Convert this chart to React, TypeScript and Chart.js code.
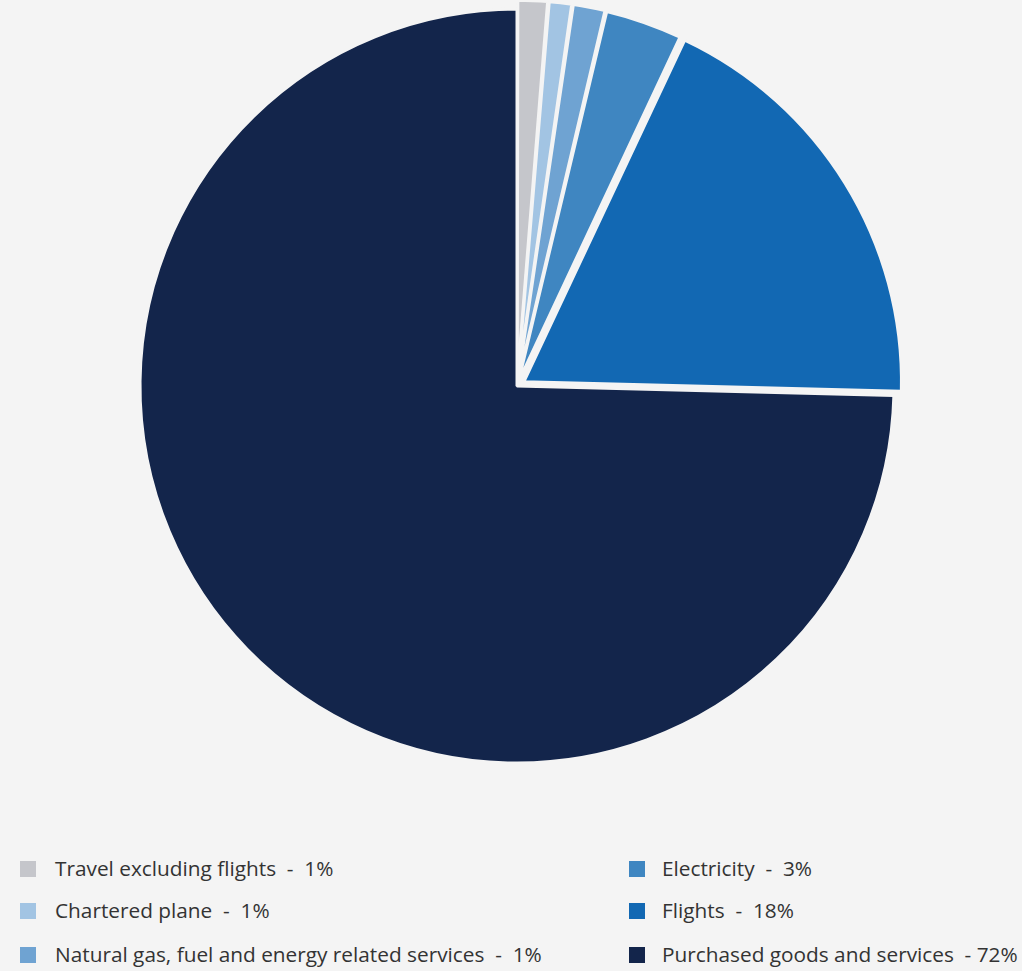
import React, { useEffect, useRef } from "react";
import { Chart, registerables } from "chart.js";

Chart.register(...registerables);

const categories = [
  "Travel excluding flights",
  "Chartered plane",
  "Natural gas, fuel and energy related services",
  "Electricity",
  "Flights",
  "Purchased goods and services",
];
const values = [1.3, 1.0, 1.4, 3.3, 18.4, 74.6];
const legendLabels = [
  "Travel excluding flights  -  1%",
  "Chartered plane  -  1%",
  "Natural gas, fuel and energy related services  -  1%",
  "Electricity  -  3%",
  "Flights  -  18%",
  "Purchased goods and services  - 72%",
];
const colors = ["#c5c6cb", "#a2c4e3", "#6fa3d2", "#3f86c1", "#1268b3", "#13254b"];
const offsets = [18, 18, 18, 18, 32, 0];

const BG = "#f4f4f4";

export default function App() {
  const ref = useRef<HTMLCanvasElement | null>(null);

  useEffect(() => {
    document.body.style.margin = "0";
    document.body.style.background = BG;
    const chart = new Chart(ref.current!, {
      type: "pie",
      data: {
        labels: categories,
        datasets: [
          {
            data: values,
            backgroundColor: colors,
            borderColor: BG,
            borderWidth: 3,
            offset: offsets,
          },
        ],
      },
      options: {
        responsive: false,
        animation: false,
        radius: 377,
        layout: { padding: { top: 1, left: 12, right: 0, bottom: 0 } },
        plugins: {
          legend: { display: false },
          tooltip: { enabled: false },
        },
      },
    });
    return () => chart.destroy();
  }, []);

  const colPos = [
    { box: 20, text: 55 },
    { box: 629, text: 662 },
  ];
  const rowY = [869, 911, 955];

  return (
    <div
      style={{
        position: "relative",
        width: 1022,
        height: 971,
        background: BG,
        overflow: "hidden",
        fontFamily: "'Open Sans', 'Noto Sans', sans-serif",
      }}
    >
      <canvas ref={ref} width={1022} height={771} style={{ position: "absolute", left: 0, top: 0 }} />
      {legendLabels.map((lab, i) => {
        const col = i < 3 ? 0 : 1;
        const row = i % 3;
        const y = rowY[row];
        return (
          <React.Fragment key={i}>
            <div
              style={{
                position: "absolute",
                left: colPos[col].box,
                top: y - 8,
                width: 16,
                height: 16,
                background: colors[i],
              }}
            />
            <div
              style={{
                position: "absolute",
                left: colPos[col].text,
                top: y - 16,
                height: 30,
                lineHeight: "30px",
                fontSize: 20.8,
                color: "#333333",
                whiteSpace: "pre",
              }}
            >
              {lab}
            </div>
          </React.Fragment>
        );
      })}
    </div>
  );
}
